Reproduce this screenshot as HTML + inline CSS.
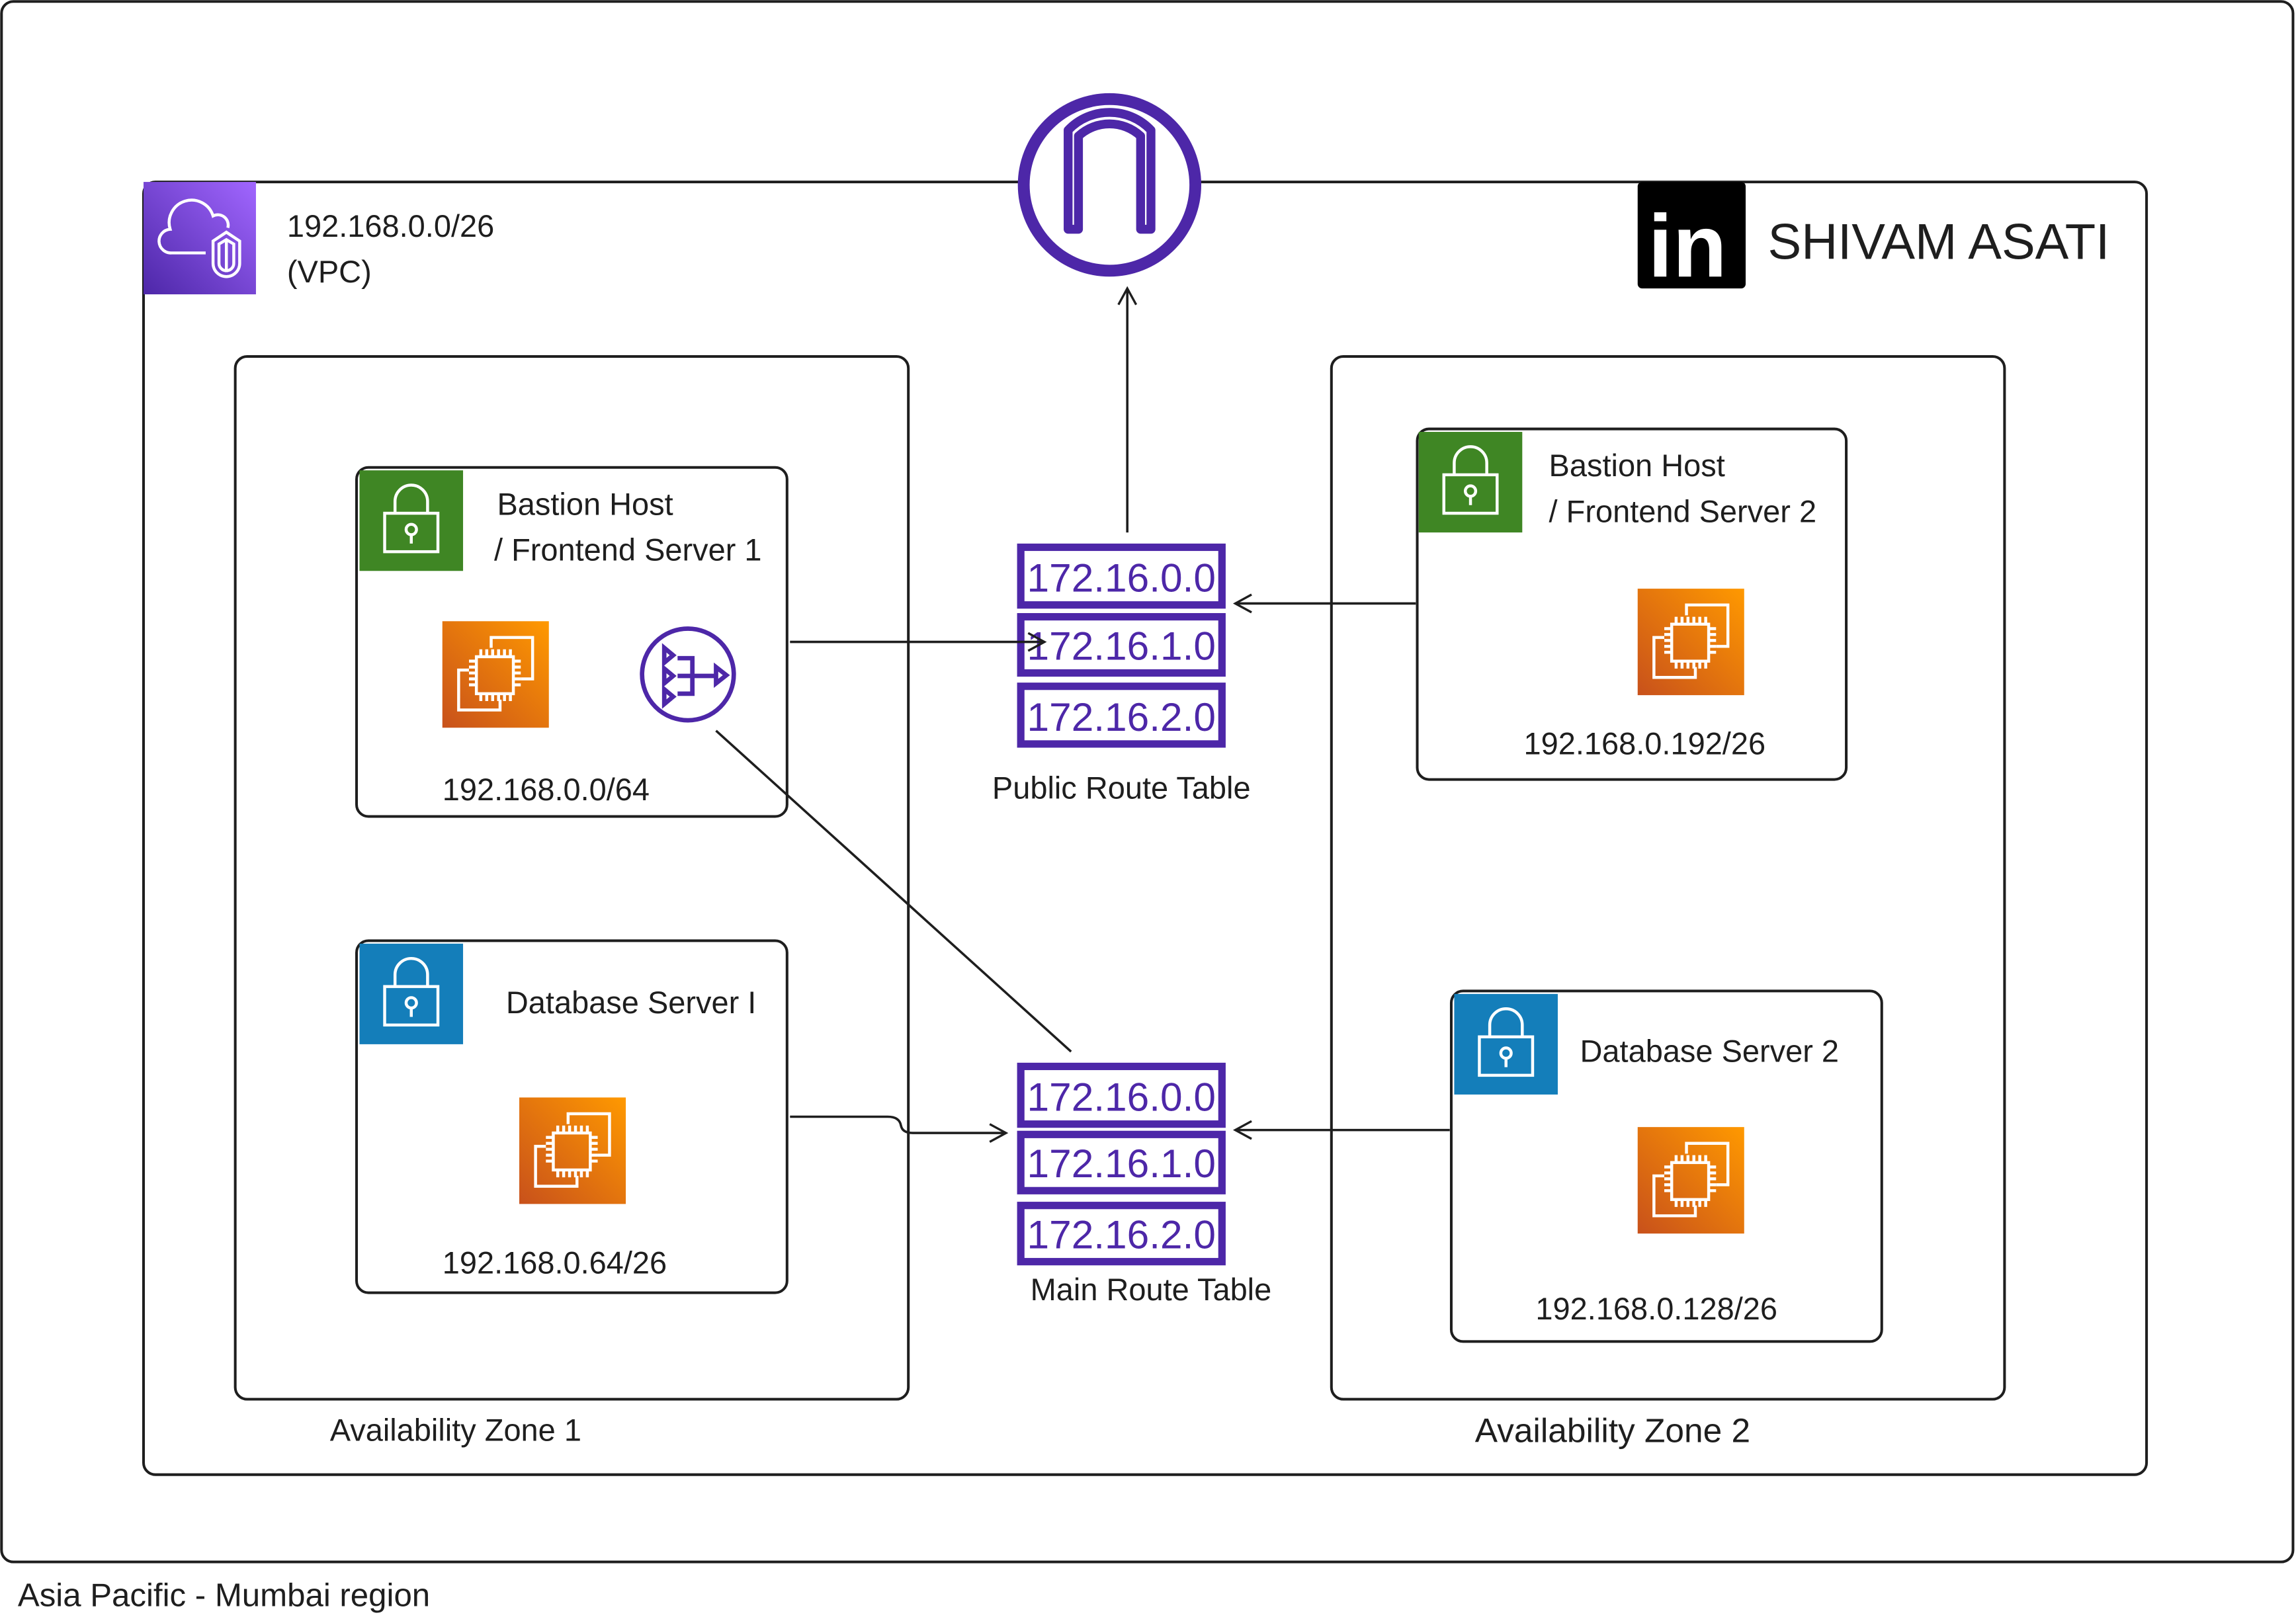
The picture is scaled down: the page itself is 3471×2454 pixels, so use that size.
<!DOCTYPE html>
<html><head><meta charset="utf-8"><style>
html,body{margin:0;padding:0;background:#fff}
svg{display:block}
text{font-family:"Liberation Sans",sans-serif;fill:#1e1e1e}
</style></head><body>
<svg width="3471" height="2454" viewBox="0 0 1552 1097.3" xmlns="http://www.w3.org/2000/svg">
<defs>
<linearGradient id="og" x1="0" y1="1" x2="1" y2="0"><stop offset="0" stop-color="#c8511b"/><stop offset="1" stop-color="#ff9900"/></linearGradient>
<linearGradient id="pg" x1="0" y1="1" x2="1" y2="0"><stop offset="0" stop-color="#4d27a8"/><stop offset="1" stop-color="#a166ff"/></linearGradient>
<g id="ec2">
<rect width="72" height="72" fill="url(#og)"/>
<g fill="none" stroke="#fff" stroke-width="2">
<path d="M33 18V11h28v28H53"/><path d="M39 53v7H11V33h7"/>
<rect x="23" y="24" width="25" height="25"/>
<path d="M26 19v5M30 19v5M34 19v5M38 19v5M42 19v5M46 19v5M26 49v5M30 49v5M34 49v5M38 49v5M42 49v5M46 49v5M18 27h5M18 31h5M18 35h5M18 39h5M18 43h5M48 27h5M48 31h5M48 35h5M48 39h5M48 43h5"/>
</g></g>
<g id="lock">
<g fill="none" stroke="#fff" stroke-width="2">
<rect x="17" y="30" width="36" height="26"/>
<path d="M24 30v-8a11 11 0 0 1 22 0v8"/>
<circle cx="35" cy="41" r="3.5"/><path d="M35 44.5v6"/>
</g></g>
<marker id="ar" markerWidth="14" markerHeight="14" refX="12" refY="7" orient="auto" markerUnits="userSpaceOnUse">
<path d="M1 1L12 7L1 13" fill="none" stroke="#1e1e1e" stroke-width="1.5"/></marker>
</defs>

<g fill="none" stroke="#1e1e1e" stroke-width="1.8">
<rect x="1" y="1" width="1549" height="1055" rx="8"/>
<rect x="97" y="123" width="1354" height="874" rx="8"/>
<rect x="159" y="241" width="455" height="705" rx="8"/>
<rect x="900" y="241" width="455" height="705" rx="8"/>
<rect x="241" y="316" width="291" height="236" rx="8"/>
<rect x="241" y="636" width="291" height="238" rx="8"/>
<rect x="958" y="290" width="290" height="237" rx="8"/>
<rect x="981" y="670" width="291" height="237" rx="8"/>
</g>

<text x="12" y="1086" font-size="22">Asia Pacific - Mumbai region</text>

<!-- VPC icon -->
<rect x="97" y="123" width="76" height="76" fill="url(#pg)"/>
<g fill="none" stroke="#fff" stroke-width="2" transform="translate(97,123)">
<path d="M42 48H19a8 8 0 0 1 -1 -16a15 15 0 0 1 29 -9a7 7 0 0 1 10 8"/>
<path d="M47 40l9 -6l9 6v15a9 9 0 0 1 -18 0z"/>
<path d="M51 42l5 -3l5 3v13a5 5 0 0 1 -10 0z"/><path d="M56 39v22"/>
</g>
<text x="194" y="160" font-size="21">192.168.0.0/26</text>
<text x="194" y="191" font-size="21">(VPC)</text>

<!-- IGW -->
<circle cx="750" cy="125" r="58" fill="#fff" stroke="#4d27a8" stroke-width="8"/>
<path d="M722 155V88c15-16 41-16 56 0v67h-7V92c-12-11-30-11-42 0v63z" fill="none" stroke="#4d27a8" stroke-width="6" stroke-linejoin="round"/>

<!-- LinkedIn -->
<rect x="1107" y="123" width="73" height="72" rx="3" fill="#000"/>
<text x="1114" y="187" font-size="60" font-weight="bold" style="fill:#fff">in</text>
<text x="1195" y="175" font-size="34">SHIVAM ASATI</text>

<text x="223" y="974" font-size="21">Availability Zone 1</text>
<text x="997" y="975" font-size="23">Availability Zone 2</text>

<!-- Bastion 1 -->
<rect x="243" y="318" width="70" height="68" fill="#3f8624"/><use href="#lock" x="243" y="317"/>
<text x="336" y="348" font-size="21">Bastion Host</text>
<text x="334" y="379" font-size="21">/ Frontend Server 1</text>
<use href="#ec2" x="299" y="420"/>
<circle cx="465" cy="456" r="31" fill="none" stroke="#4d27a8" stroke-width="3"/>
<g fill="none" stroke="#4d27a8" stroke-width="3">
<path d="M449 438v10l6-5zM449 452v10l6-5zM449 466v10l6-5zM484 451v11l7-5.5z"/>
<path d="M458 445h10v24h-10M458 457h26"/>
</g>
<text x="299" y="541" font-size="21">192.168.0.0/64</text>

<!-- DB 1 -->
<rect x="243" y="638" width="70" height="68" fill="#147eba"/><use href="#lock" x="243" y="637"/>
<text x="342" y="685" font-size="21">Database Server I</text>
<use href="#ec2" x="351" y="742"/>
<text x="299" y="861" font-size="21">192.168.0.64/26</text>

<!-- Bastion 2 -->
<rect x="959" y="292" width="70" height="68" fill="#3f8624"/><use href="#lock" x="959" y="291"/>
<text x="1047" y="322" font-size="21">Bastion Host</text>
<text x="1047" y="353" font-size="21">/ Frontend Server 2</text>
<use href="#ec2" x="1107" y="398"/>
<text x="1030" y="510" font-size="21">192.168.0.192/26</text>

<!-- DB 2 -->
<rect x="983" y="672" width="70" height="68" fill="#147eba"/><use href="#lock" x="983" y="671"/>
<text x="1068" y="718" font-size="21">Database Server 2</text>
<use href="#ec2" x="1107" y="762"/>
<text x="1038" y="892" font-size="21">192.168.0.128/26</text>

<!-- Route tables -->
<g fill="#fff" stroke="#4d27a8" stroke-width="5">
<rect x="690" y="370" width="136" height="39"/><rect x="690" y="417" width="136" height="38"/><rect x="690" y="464" width="136" height="39"/>
<rect x="690" y="721" width="136" height="39"/><rect x="690" y="767" width="136" height="38"/><rect x="690" y="815" width="136" height="38"/>
</g>
<g font-size="27" text-anchor="middle">
<text x="758" y="400" style="fill:#4d27a8">172.16.0.0</text>
<text x="758" y="446" style="fill:#4d27a8">172.16.1.0</text>
<text x="758" y="494" style="fill:#4d27a8">172.16.2.0</text>
<text x="758" y="751" style="fill:#4d27a8">172.16.0.0</text>
<text x="758" y="796" style="fill:#4d27a8">172.16.1.0</text>
<text x="758" y="844" style="fill:#4d27a8">172.16.2.0</text>
</g>
<text x="758" y="540" font-size="21" text-anchor="middle">Public Route Table</text>
<text x="778" y="879" font-size="21" text-anchor="middle">Main Route Table</text>

<!-- Connectors -->
<g fill="none" stroke="#1e1e1e" stroke-width="1.6">
<path d="M762 360V195" marker-end="url(#ar)"/>
<path d="M957 408H835" marker-end="url(#ar)"/>
<path d="M534 434H706" marker-end="url(#ar)"/>
<path d="M484 494L724 711"/>
<path d="M534 755H600q8 0 9 6q1 5 8 5H680" marker-end="url(#ar)"/>
<path d="M980 764H835" marker-end="url(#ar)"/>
</g>
</svg>
</body></html>
